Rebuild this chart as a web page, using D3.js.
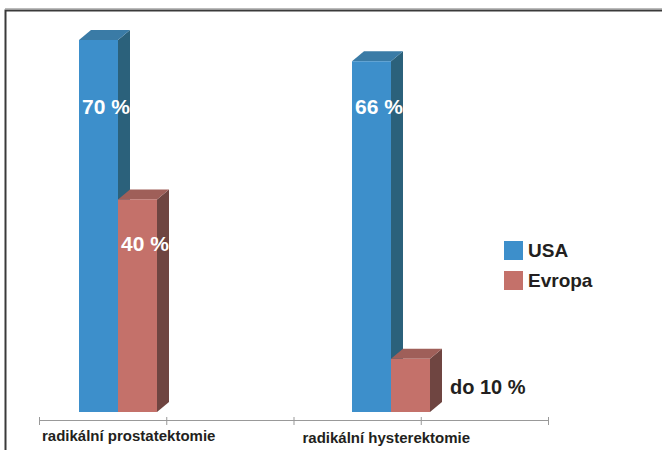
<!DOCTYPE html>
<html>
<head>
<meta charset="utf-8">
<script src="https://cdn.jsdelivr.net/npm/d3@7"></script>
<style>
  body { margin: 0; background: #fff; }
  svg text { font-family: "Liberation Sans", Arial, sans-serif; font-weight: bold; }
</style>
</head>
<body>
<svg id="chart"></svg>
<script>
// data
const categories = ['radikální prostatektomie', 'radikální hysterektomie'];
const seriesNames = ['USA', 'Evropa'];
const usaValues = [70, 66];
const evropaValues = [40, 10];
const valueLabels = [['70 %', '40 %'], ['66 %', 'do 10 %']];

const width = 662, height = 450;
const depthX = 12, depthY = 10;
const baseY = 412;

const colors = {
  USA: { front: '#3d8fcb', top: '#3a7ba6', side: '#2b617b' },
  Evropa: { front: '#c4716a', top: '#9f5f59', side: '#6f4541' }
};

const svg = d3.select('#chart')
  .attr('width', width)
  .attr('height', height);

// frame
svg.append('path')
  .attr('d', `M5.5,${height} V10.5 H${width}`)
  .attr('fill', 'none')
  .attr('stroke', '#3a3a3a')
  .attr('stroke-width', 2);
svg.append('line')
  .attr('x1', 5).attr('x2', width).attr('y1', 8.5).attr('y2', 8.5)
  .attr('stroke', '#bbb').attr('stroke-width', 1);

const x0 = d3.scalePoint()
  .domain(categories)
  .range([118, 391]);

const x1 = d3.scaleBand()
  .domain(seriesNames)
  .range([-39, 39]);

const y = d3.scaleLinear()
  .domain([0, 70])
  .range([baseY, 40]);

const rows = categories.map((c, i) => ({
  category: c,
  values: [
    { key: 'USA', value: usaValues[i], label: valueLabels[i][0] },
    { key: 'Evropa', value: evropaValues[i], label: valueLabels[i][1] }
  ]
}));

const groups = svg.selectAll('.group')
  .data(rows)
  .enter().append('g')
  .attr('class', 'group')
  .attr('transform', d => `translate(${x0(d.category)},0)`);

const bars = groups.selectAll('.bar')
  .data(d => d.values)
  .enter().append('g')
  .attr('class', 'bar');

const bw = x1.bandwidth();

// side face
bars.append('path')
  .attr('d', d => {
    const xr = x1(d.key) + bw, yt = y(d.value);
    return `M${xr},${yt} L${xr + depthX},${yt - depthY} L${xr + depthX},${baseY - depthY} L${xr},${baseY} Z`;
  })
  .attr('fill', d => colors[d.key].side);

// top face
bars.append('path')
  .attr('d', d => {
    const xl = x1(d.key), yt = y(d.value);
    return `M${xl},${yt} L${xl + depthX},${yt - depthY} L${xl + bw + depthX},${yt - depthY} L${xl + bw},${yt} Z`;
  })
  .attr('fill', d => colors[d.key].top);

// front face
bars.append('rect')
  .attr('x', d => x1(d.key))
  .attr('y', d => y(d.value))
  .attr('width', bw)
  .attr('height', d => baseY - y(d.value))
  .attr('fill', d => colors[d.key].front);

// value labels
bars.append('text')
  .attr('x', d => d.value < 20 ? x1(d.key) + bw + depthX + 8 : x1(d.key) + 3)
  .attr('y', d => {
    if (d.key === 'USA') return 114;
    if (d.value < 20) return 394;
    return y(d.value) + 52;
  })
  .attr('fill', d => d.value < 20 ? '#231f20' : '#fff')
  .attr('font-size', d => d.value < 20 ? 20 : 21)
  .text(d => d.label);

// axis
const xAxisScale = d3.scaleLinear()
  .domain([0, categories.length])
  .range([39, 548]);

const axis = svg.append('g')
  .attr('transform', `translate(0,${420})`)
  .call(d3.axisBottom(xAxisScale)
    .tickValues(d3.range(0, categories.length + 0.5, 0.5))
    .tickFormat('')
    .tickSize(5)
    .tickSizeOuter(0));
axis.select('.domain').attr('stroke', '#999');
axis.selectAll('.tick line').attr('stroke', '#999').attr('y1', -3);

svg.selectAll('.cat-label')
  .data(categories)
  .enter().append('text')
  .attr('class', 'cat-label')
  .attr('x', (d, i) => xAxisScale(i) + (i === 0 ? 3 : 9))
  .attr('y', (d, i) => 441 + i * 1.5)
  .attr('font-size', 15)
  .attr('fill', '#231f20')
  .text(d => d);

// legend
const legend = svg.selectAll('.legend')
  .data(seriesNames)
  .enter().append('g')
  .attr('class', 'legend')
  .attr('transform', (d, i) => `translate(504,${241 + i * 30})`);

legend.append('rect')
  .attr('width', 19)
  .attr('height', 19)
  .attr('fill', d => colors[d].front);

legend.append('text')
  .attr('x', 24)
  .attr('y', 16)
  .attr('font-size', 19)
  .attr('fill', '#231f20')
  .text(d => d);
</script>
</body>
</html>
